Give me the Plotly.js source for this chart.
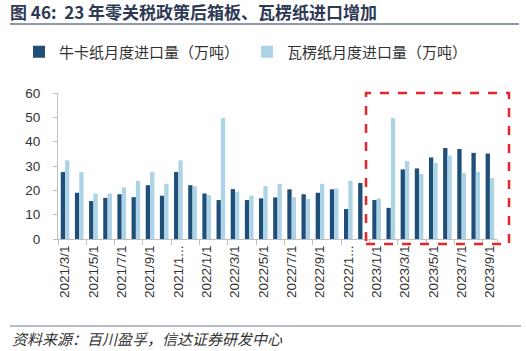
<!DOCTYPE html>
<html>
<head>
<meta charset="utf-8">
<script src="https://cdn.plot.ly/plotly-3.0.1.min.js"></script>
<style>html,body{margin:0;padding:0;background:#fff;}#chart{width:526px;height:351px;}</style>
</head>
<body>
<div id="chart"></div>
<script>
const months = ["2021/3/1","2021/4/1","2021/5/1","2021/6/1","2021/7/1","2021/8/1","2021/9/1","2021/10/1","2021/11/1","2021/12/1",
  "2022/1/1","2022/2/1","2022/3/1","2022/4/1","2022/5/1","2022/6/1","2022/7/1","2022/8/1","2022/9/1","2022/10/1","2022/11/1","2022/12/1",
  "2023/1/1","2023/2/1","2023/3/1","2023/4/1","2023/5/1","2023/6/1","2023/7/1","2023/8/1","2023/9/1"];
const kraftImports = [27.5,19.0,15.6,16.9,18.4,17.2,22.1,17.8,27.5,22.1,18.7,16.0,20.5,16.0,16.7,17.1,20.4,18.4,19.0,20.4,12.3,23.0,16.0,12.8,28.6,29.0,33.5,37.4,37.0,35.4,35.1];
const corrugatedImports = [32.3,27.5,18.7,18.7,21.2,23.9,27.5,22.7,32.3,21.7,18.0,49.7,19.4,17.8,21.7,22.6,17.2,16.5,22.7,20.8,23.9,null,16.7,49.7,32.0,26.7,31.3,34.3,27.1,27.6,25.0];
const seriesNames = ["牛卡纸月度进口量（万吨）","瓦楞纸月度进口量（万吨）"];
const tickVals = ["2021/3/1","2021/5/1","2021/7/1","2021/9/1","2021/11/1","2022/1/1","2022/3/1","2022/5/1","2022/7/1","2022/9/1","2022/11/1","2023/1/1","2023/3/1","2023/5/1","2023/7/1","2023/9/1"];
const tickText = ["2021/3/1","2021/5/1","2021/7/1","2021/9/1","2021/1...","2022/1/1","2022/3/1","2022/5/1","2022/7/1","2022/9/1","2022/1...","2023/1/1","2023/3/1","2023/5/1","2023/7/1","2023/9/1"];
const titleText = "<b>图 46:  23 年零关税政策后箱板、瓦楞纸进口增加</b>";
const sourceText = "<i>资料来源：百川盈孚，信达证券研发中心</i>";

const cjk = '"Noto Sans CJK SC", "Noto Sans", sans-serif';
const latin = '"Liberation Sans", "DejaVu Sans", sans-serif';

const traces = [
  {type:'bar', name: seriesNames[0], x: months, y: kraftImports, marker:{color:'#1f4e79'}},
  {type:'bar', name: seriesNames[1], x: months, y: corrugatedImports, marker:{color:'#acd3e6'}}
];

const layout = {
  width:526, height:351,
  margin:{l:58, r:29, t:93, b:112, pad:0},
  paper_bgcolor:'#fff', plot_bgcolor:'#fff',
  barmode:'group', bargap:0.39, bargroupgap:0,
  title:{text:titleText, x:10/526, xanchor:'left', xref:'container', y:1-13/351, yanchor:'middle', yref:'container',
    font:{family:cjk, size:17, color:'#2e3a55'}},
  showlegend:true,
  legend:{orientation:'h', x:(19-58)/439, xanchor:'left', y:(239-52)/146, yanchor:'middle',
    font:{family:cjk, size:15, color:'#333'}, entrywidth:183, entrywidthmode:'pixels', bgcolor:'rgba(0,0,0,0)'},
  xaxis:{type:'category', tickmode:'array', tickvals:tickVals, ticktext:tickText, tickangle:-90,
    tickson:'boundaries', ticks:'outside', ticklen:5, tickcolor:'#bfbfbf', showline:true, linecolor:'#bfbfbf',
    showgrid:false, tickfont:{family:latin, size:13.5, color:'#333'}},
  yaxis:{range:[0,60], dtick:10, tick0:0, ticks:'outside', ticklen:4, tickcolor:'#bfbfbf', showline:true, linecolor:'#bfbfbf',
    showgrid:false, zeroline:false, ticklabelstandoff:10, tickfont:{family:latin, size:13.5, color:'#333'}},
  shapes:[
    {type:'line', xref:'paper', yref:'paper', x0:(10-58)/439, x1:(519-58)/439, y0:(239-24)/146, y1:(239-24)/146, line:{color:'#6b7894', width:1.5}},
    {type:'line', xref:'paper', yref:'paper', x0:(10-58)/439, x1:(521-58)/439, y0:(239-326)/146, y1:(239-326)/146, line:{color:'#6b7894', width:1.2}},
    {type:'rect', xref:'paper', yref:'paper', x0:(366-58)/439, x1:(509-58)/439, y0:(239-244)/146, y1:(239-93)/146, line:{color:'#e8262a', width:2.5, dash:'dash'}, fillcolor:'rgba(0,0,0,0)'}
  ],
  annotations:[
    {text:sourceText, xref:'paper', yref:'paper', x:(10-58)/439, xanchor:'left', y:(239-338)/146, yanchor:'middle', showarrow:false,
      font:{family:cjk, size:15, color:'#333'}}
  ]
};
Plotly.newPlot('chart', traces, layout, {staticPlot:true, displayModeBar:false});
</script>
</body>
</html>
